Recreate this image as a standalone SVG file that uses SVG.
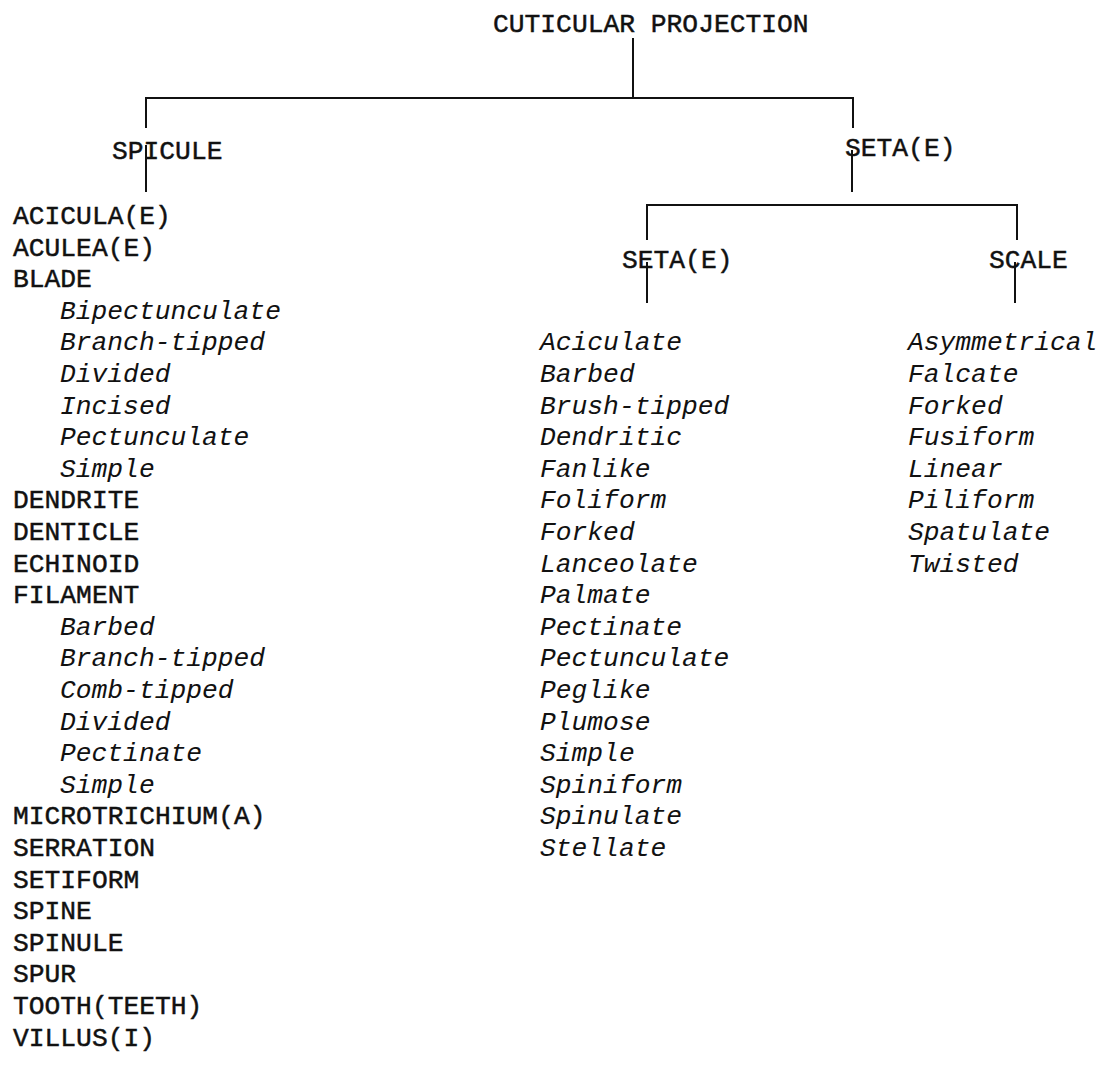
<svg xmlns="http://www.w3.org/2000/svg" width="1104" height="1065" viewBox="0 0 1104 1065">
<style>
  text { font-family: "Liberation Mono", "DejaVu Sans Mono", monospace; font-size: 26.3px; fill: #111; }
  .cap { stroke: #111; stroke-width: 0.45px; }
  .it { font-style: italic; }
  .ln { stroke: #111; stroke-width: 2; fill: none; }
</style>
<rect width="1104" height="1065" fill="#fff"/>
<g id="connectors">
  <line class="ln" x1="633" y1="38" x2="633" y2="98"/>
  <line class="ln" x1="146" y1="98" x2="853" y2="98"/>
  <line class="ln" x1="146" y1="97" x2="146" y2="128"/>
  <line class="ln" x1="853" y1="97" x2="853" y2="128"/>
  <line class="ln" x1="146" y1="145" x2="146" y2="192"/>
  <line class="ln" x1="852" y1="150" x2="852" y2="192"/>
  <line class="ln" x1="647" y1="205" x2="1017" y2="205"/>
  <line class="ln" x1="647" y1="204" x2="647" y2="240"/>
  <line class="ln" x1="1017" y1="204" x2="1017" y2="240"/>
  <line class="ln" x1="647" y1="262" x2="647" y2="303"/>
  <line class="ln" x1="1015" y1="262" x2="1015" y2="303"/>
</g>
<g id="node-cuticular-projection"><text class="cap" x="493" y="32">CUTICULAR PROJECTION</text></g>
<g id="node-spicule"><text class="cap" x="112" y="159">SPICULE</text></g>
<g id="node-setae-main"><text class="cap" x="845" y="156">SETA(E)</text></g>
<g id="node-setae"><text class="cap" x="622" y="268">SETA(E)</text></g>
<g id="node-scale"><text class="cap" x="989" y="268">SCALE</text></g>
<g id="list-spicule">
  <text class="cap" x="13" y="224">ACICULA(E)</text>
  <text class="cap" x="13" y="255.6">ACULEA(E)</text>
  <text class="cap" x="13" y="287.2">BLADE</text>
  <text class="it" x="60" y="318.8">Bipectunculate</text>
  <text class="it" x="60" y="350.4">Branch-tipped</text>
  <text class="it" x="60" y="382">Divided</text>
  <text class="it" x="60" y="413.6">Incised</text>
  <text class="it" x="60" y="445.2">Pectunculate</text>
  <text class="it" x="60" y="476.8">Simple</text>
  <text class="cap" x="13" y="508.4">DENDRITE</text>
  <text class="cap" x="13" y="540">DENTICLE</text>
  <text class="cap" x="13" y="571.6">ECHINOID</text>
  <text class="cap" x="13" y="603.2">FILAMENT</text>
  <text class="it" x="60" y="634.8">Barbed</text>
  <text class="it" x="60" y="666.4">Branch-tipped</text>
  <text class="it" x="60" y="698">Comb-tipped</text>
  <text class="it" x="60" y="729.6">Divided</text>
  <text class="it" x="60" y="761.2">Pectinate</text>
  <text class="it" x="60" y="792.8">Simple</text>
  <text class="cap" x="13" y="824.4">MICROTRICHIUM(A)</text>
  <text class="cap" x="13" y="856">SERRATION</text>
  <text class="cap" x="13" y="887.6">SETIFORM</text>
  <text class="cap" x="13" y="919.2">SPINE</text>
  <text class="cap" x="13" y="950.8">SPINULE</text>
  <text class="cap" x="13" y="982.4">SPUR</text>
  <text class="cap" x="13" y="1014">TOOTH(TEETH)</text>
  <text class="cap" x="13" y="1045.6">VILLUS(I)</text>
</g>
<g id="list-setae">
  <text class="it" x="540" y="350.4">Aciculate</text>
  <text class="it" x="540" y="382">Barbed</text>
  <text class="it" x="540" y="413.6">Brush-tipped</text>
  <text class="it" x="540" y="445.2">Dendritic</text>
  <text class="it" x="540" y="476.8">Fanlike</text>
  <text class="it" x="540" y="508.4">Foliform</text>
  <text class="it" x="540" y="540">Forked</text>
  <text class="it" x="540" y="571.6">Lanceolate</text>
  <text class="it" x="540" y="603.2">Palmate</text>
  <text class="it" x="540" y="634.8">Pectinate</text>
  <text class="it" x="540" y="666.4">Pectunculate</text>
  <text class="it" x="540" y="698">Peglike</text>
  <text class="it" x="540" y="729.6">Plumose</text>
  <text class="it" x="540" y="761.2">Simple</text>
  <text class="it" x="540" y="792.8">Spiniform</text>
  <text class="it" x="540" y="824.4">Spinulate</text>
  <text class="it" x="540" y="856">Stellate</text>
</g>
<g id="list-scale">
  <text class="it" x="908" y="350.4">Asymmetrical</text>
  <text class="it" x="908" y="382">Falcate</text>
  <text class="it" x="908" y="413.6">Forked</text>
  <text class="it" x="908" y="445.2">Fusiform</text>
  <text class="it" x="908" y="476.8">Linear</text>
  <text class="it" x="908" y="508.4">Piliform</text>
  <text class="it" x="908" y="540">Spatulate</text>
  <text class="it" x="908" y="571.6">Twisted</text>
</g>
</svg>
